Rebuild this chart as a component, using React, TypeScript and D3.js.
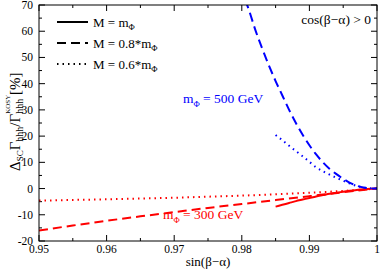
import React from 'react';
import * as d3 from 'd3';

// sin(beta-alpha) vs relative correction [%]
const redSolid: [number, number][] = [
  [0.985, -6.9], [0.986, -6.2], [0.987, -5.5], [0.988, -4.8], [0.989, -4.2], [0.99, -3.6],
  [0.991, -3.0], [0.992, -2.5], [0.993, -2.0], [0.994, -1.6], [0.995, -1.2], [0.996, -0.85],
  [0.997, -0.55], [0.998, -0.3], [0.999, -0.1], [1.0, 0],
];
const redDashed: [number, number][] = [
  [0.95, -16], [0.955, -14.1], [0.96, -12.3], [0.965, -10.6], [0.97, -9.0], [0.975, -7.4],
  [0.98, -5.9], [0.985, -4.4], [0.99, -2.9], [0.995, -1.4], [1.0, 0],
];
const redDotted: [number, number][] = [
  [0.95, -4.6], [0.955, -4.35], [0.96, -4.1], [0.965, -3.8], [0.97, -3.5], [0.975, -3.1],
  [0.98, -2.7], [0.985, -2.2], [0.99, -1.6], [0.995, -0.9], [1.0, 0],
];
const blueDashed: [number, number][] = [
  [0.9805, 72], [0.981, 68.5], [0.982, 60.5], [0.983, 53.5], [0.984, 47], [0.985, 41], [0.986, 35.5],
  [0.987, 30], [0.988, 25], [0.989, 20.5], [0.99, 16.5], [0.991, 13], [0.992, 10],
  [0.993, 7.5], [0.994, 5.5], [0.995, 3.7], [0.996, 2.2], [0.997, 1.1], [0.998, 0.4],
  [0.999, 0.1], [1.0, 0],
];
const blueDotted: [number, number][] = [
  [0.985, 20.4], [0.986, 18.4], [0.987, 16.3], [0.988, 14.3], [0.989, 12.3], [0.99, 10.2],
  [0.991, 8.1], [0.992, 6.6], [0.993, 5.3], [0.994, 4.1], [0.995, 3.0], [0.996, 1.9],
  [0.997, 1.0], [0.998, 0.4], [0.999, 0.1], [1.0, 0],
];

const xTicks = [0.95, 0.96, 0.97, 0.98, 0.99, 1.0];
const xTickLabels = ['0.95', '0.96', '0.97', '0.98', '0.99', '1'];
const yTicks = [-20, -10, 0, 10, 20, 30, 40, 50, 60, 70];

const W = 382;
const H = 272;
const FONT = "'Liberation Serif', 'Times New Roman', 'DejaVu Serif', serif";
const RED = '#ff0000';
const BLUE = '#0000ff';

export default function App() {
  const x = d3.scaleLinear().domain([0.95, 1.0]).range([39, 377]);
  const y = d3.scaleLinear().domain([-20, 70]).range([241, 5]);
  const line = d3
    .line<[number, number]>()
    .x((d) => x(d[0]))
    .y((d) => y(d[1]))
    .curve(d3.curveMonotoneX);

  const [x0, x1] = x.range();
  const [y0, y1] = y.range();
  const xMinor = d3.range(0.95, 1.0001, 0.005);
  const yMinor = d3.range(-20, 70.001, 5);

  const series = [
    { data: redSolid, color: RED, dash: undefined },
    { data: redDashed, color: RED, dash: '9,5' },
    { data: redDotted, color: RED, dash: '1.5,4' },
    { data: blueDashed, color: BLUE, dash: '9,5' },
    { data: blueDotted, color: BLUE, dash: '1.5,4' },
  ];

  const legend = [
    { label: 'M = m', dash: undefined },
    { label: 'M = 0.8*m', dash: '9,5' },
    { label: 'M = 0.6*m', dash: '1.5,4' },
  ];

  return (
    <svg
      width={W}
      height={H}
      style={{ position: 'fixed', left: 0, top: 0, background: '#fff', fontFamily: FONT }}
    >
      <defs>
        <clipPath id="plot">
          <rect x={x0} y={y1} width={x1 - x0} height={y0 - y1} />
        </clipPath>
      </defs>
      <rect width={W} height={H} fill="#fff" />

      {/* ticks on all four sides, pointing inward */}
      {xMinor.map((v, i) => {
        const len = i % 2 === 0 ? 6 : 3;
        return (
          <g key={'xt' + i} stroke="#000" strokeWidth={1}>
            <line x1={x(v)} x2={x(v)} y1={y0} y2={y0 - len} />
            <line x1={x(v)} x2={x(v)} y1={y1} y2={y1 + len} />
          </g>
        );
      })}
      {yMinor.map((v, i) => {
        const len = i % 2 === 0 ? 6 : 3;
        return (
          <g key={'yt' + i} stroke="#000" strokeWidth={1}>
            <line x1={x0} x2={x0 + len} y1={y(v)} y2={y(v)} />
            <line x1={x1} x2={x1 - len} y1={y(v)} y2={y(v)} />
          </g>
        );
      })}

      {xTicks.map((v, i) => (
        <text key={'xl' + i} x={x(v)} y={253} fontSize={11.5} textAnchor="middle">
          {xTickLabels[i]}
        </text>
      ))}
      {yTicks.map((v) => (
        <text key={'yl' + v} x={33} y={y(v) + 4} fontSize={11.5} textAnchor="end">
          {v}
        </text>
      ))}

      <g clipPath="url(#plot)" fill="none">
        {series.map((s, i) => (
          <path
            key={i}
            d={line(s.data) || ''}
            stroke={s.color}
            strokeWidth={2}
            strokeDasharray={s.dash}
          />
        ))}
      </g>

      <rect x={x0} y={y1} width={x1 - x0} height={y0 - y1} fill="none" stroke="#000" strokeWidth={1} />

      {/* legend */}
      {legend.map((l, i) => {
        const ly = 22 + i * 21;
        return (
          <g key={'lg' + i}>
            <line x1={57} x2={88} y1={ly} y2={ly} stroke="#000" strokeWidth={2} strokeDasharray={l.dash} />
            <text x={93} y={ly + 4.5} fontSize={13}>
              {l.label}
              <tspan fontSize={8.5} dy={3.5}>Φ</tspan>
            </text>
          </g>
        );
      })}

      <text x={371} y={24} fontSize={13.5} textAnchor="end">
        cos(β−α) &gt; 0
      </text>

      <text x={183} y={103} fontSize={13.5} fill={BLUE}>
        m<tspan fontSize={8.5} dy={3.5}>Φ</tspan>
        <tspan dy={-3.5}> = 500 GeV</tspan>
      </text>
      <text x={163} y={219} fontSize={13.5} fill={RED}>
        m<tspan fontSize={8.5} dy={3.5}>Φ</tspan>
        <tspan dy={-3.5}> = 300 GeV</tspan>
      </text>

      <text x={(x0 + x1) / 2} y={266} fontSize={13} textAnchor="middle">
        sin(β−α)
      </text>

      <text transform="translate(20,171) rotate(-90)" fontSize={15}>
        Δ<tspan fontSize={9} dy={3}>SC</tspan>
        <tspan dy={-3}>Γ</tspan>
        <tspan fontSize={10} dy={3}>hhh</tspan>
        <tspan dy={-3}>/Γ</tspan>
        <tspan fontSize={7} dy={-10}>KOSY</tspan>
        <tspan fontSize={10} dx={-19} dy={13}>hhh</tspan>
        <tspan dy={-3}> [%]</tspan>
      </text>
    </svg>
  );
}
